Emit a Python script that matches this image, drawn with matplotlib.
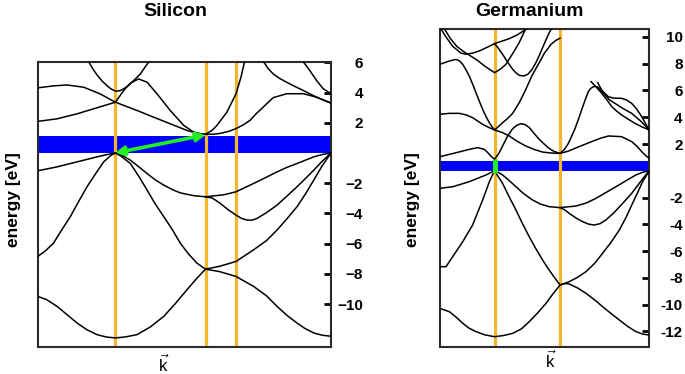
import matplotlib
matplotlib.use('Agg')
import matplotlib.pyplot as plt

plt.rcParams['font.family'] = ['Liberation Sans', 'DejaVu Sans']
plt.rcParams['mathtext.fontset'] = 'custom'
plt.rcParams['mathtext.rm'] = 'Liberation Sans'
plt.rcParams['mathtext.it'] = 'Liberation Sans:italic'

# ---------------- data ----------------
titles = ["Silicon", "Germanium"]
ylabel = "energy [eV]"

si_sym = [0.2636, 0.5727, 0.676]       # Gamma, X, K positions (fraction of path)
ge_sym = [0.262, 0.574]
si_gap = 1.1
ge_gap = 0.73

si_ticks = [6, 4, 2, -2, -4, -6, -8, -10]
si_ticklabels = ["6", "4", "2", "\u22122", "\u22124", "\u22126", "\u22128", "\u221210"]
ge_ticks = [10, 8, 6, 4, 2, -2, -4, -6, -8, -10, -12]
ge_ticklabels = ["10", "8", "6", "4", "2", "-2", "-4", "-6", "-8", "-10", "-12"]

# Silicon bands (k along path, energy eV)
si_vb1_k = [0, 0.03, 0.066, 0.10, 0.134, 0.168, 0.202, 0.234, 0.265, 0.30, 0.339, 0.385, 0.430, 0.47, 0.509, 0.54, 0.572,
            0.62, 0.676, 0.736, 0.78, 0.816, 0.85, 0.884, 0.91, 0.941, 0.97, 1.0]
si_vb1_e = [-9.49, -9.7, -10.15, -10.7, -11.25, -11.7, -12.02, -12.18, -12.24, -12.17, -12.02, -11.5, -10.81, -9.95, -9.05, -8.35, -7.69,
            -7.85, -8.17, -8.83, -9.45, -10.15, -10.75, -11.25, -11.6, -11.91, -12.06, -12.13]
si_vb2_k = [0, 0.025, 0.054, 0.08, 0.111, 0.14, 0.168, 0.20, 0.225, 0.25, 0.265, 0.285, 0.316, 0.345, 0.373, 0.40, 0.430, 0.46,
            0.486, 0.515, 0.543, 0.572, 0.62, 0.676, 0.736, 0.78, 0.816, 0.85, 0.884, 0.915, 0.941, 0.97, 1.0]
si_vb2_e = [-6.85, -6.5, -5.97, -5.15, -4.22, -3.2, -2.24, -1.3, -0.59, -0.15, 0, -0.22, -0.70, -1.55, -2.46, -3.35, -4.22, -5.1,
            -5.97, -6.7, -7.29, -7.69, -7.5, -7.18, -6.41, -5.8, -5.10, -4.35, -3.56, -2.65, -1.80, -0.85, 0]
si_vb3_k = [0, 0.066, 0.134, 0.202, 0.235, 0.265, 0.29, 0.316, 0.345, 0.373, 0.40, 0.430, 0.46, 0.486, 0.53, 0.572, 0.634,
            0.676, 0.736, 0.78, 0.816, 0.85, 0.884, 0.941, 0.97, 1.0]
si_vb3_e = [-1.18, -0.92, -0.59, -0.26, -0.11, 0, -0.18, -0.48, -0.92, -1.36, -1.77, -2.13, -2.43, -2.64, -2.82, -2.90, -2.77,
            -2.57, -2.02, -1.6, -1.25, -0.95, -0.70, -0.26, -0.1, 0]
si_vb4_k = [0.572, 0.595, 0.62, 0.651, 0.676, 0.695, 0.714, 0.73, 0.748, 0.78, 0.816, 0.85, 0.884, 0.915, 0.941, 0.97, 1.0]
si_vb4_e = [-2.90, -2.98, -3.3, -3.78, -4.11, -4.33, -4.44, -4.45, -4.33, -3.95, -3.45, -2.85, -2.24, -1.65, -1.14, -0.55, 0]
si_cb1_k = [0, 0.066, 0.134, 0.202, 0.265, 0.30, 0.339, 0.395, 0.452, 0.509, 0.545, 0.572, 0.60, 0.623, 0.65, 0.676, 0.70,
            0.724, 0.745, 0.769, 0.803, 0.849, 0.906, 0.951, 1.0]
si_cb1_e = [2.09, 2.26, 2.59, 2.99, 3.36, 3.1, 2.81, 2.37, 1.93, 1.49, 1.3, 1.23, 1.24, 1.30, 1.42, 1.61, 1.85,
            2.16, 2.6, 3.04, 3.66, 3.92, 3.92, 3.69, 3.30]
si_cb2_k = [0, 0.054, 0.100, 0.157, 0.213, 0.24, 0.265, 0.293, 0.316, 0.344, 0.373, 0.407, 0.452, 0.498, 0.532, 0.555, 0.572,
            0.595, 0.611, 0.645, 0.676, 0.693, 0.706]
si_cb2_e = [4.31, 4.44, 4.50, 4.35, 3.91, 3.62, 3.36, 4.13, 4.62, 4.90, 4.68, 3.91, 2.81, 1.82, 1.38, 1.27, 1.23,
            1.5, 1.82, 2.70, 3.91, 5.01, 6.1]
si_cb3_k = [0.172, 0.19, 0.204, 0.22, 0.236, 0.25, 0.265, 0.28, 0.293, 0.31, 0.327, 0.350, 0.381]
si_cb3_e = [6.1, 5.5, 5.12, 4.75, 4.46, 4.24, 4.09, 4.12, 4.24, 4.48, 4.79, 5.23, 6.1]
si_cb4_k = [0.768, 0.785, 0.803, 0.825, 0.849, 0.875, 0.906, 0.951, 1.0]
si_cb4_e = [6.1, 5.6, 5.23, 4.93, 4.68, 4.42, 4.13, 3.69, 3.30]
si_cb5_k = [0.903, 0.928, 0.951, 0.973, 1.0]
si_cb5_e = [6.1, 5.45, 4.79, 4.26, 3.92]

# Germanium bands
ge_vb1_k = [0, 0.046, 0.080, 0.110, 0.140, 0.173, 0.215, 0.262, 0.305, 0.348, 0.39, 0.427, 0.467, 0.507, 0.54, 0.574,
            0.595, 0.618, 0.658, 0.698, 0.74, 0.777, 0.817, 0.857, 0.897, 0.936, 0.97, 1.0]
ge_vb1_e = [-10.27, -10.52, -10.95, -11.39, -11.75, -12.01, -12.25, -12.39, -12.3, -12.14, -11.8, -11.27, -10.62, -9.90, -9.2, -8.53,
            -8.42, -8.45, -8.75, -9.15, -9.65, -10.14, -10.65, -11.14, -11.62, -12.01, -12.2, -12.26]
ge_vb2_k = [0, 0.030, 0.062, 0.110, 0.157, 0.18, 0.205, 0.222, 0.237, 0.252, 0.262, 0.280, 0.300, 0.33, 0.364, 0.395, 0.427,
            0.46, 0.491, 0.515, 0.539, 0.574, 0.618, 0.658, 0.698, 0.74, 0.777, 0.817, 0.857, 0.89, 0.920, 0.945, 0.968, 1.0]
ge_vb2_e = [-7.16, -7.16, -6.41, -5.29, -4.05, -3.15, -2.18, -1.45, -0.81, -0.3, 0, -0.45, -0.94, -1.9, -2.93, -3.95, -4.92,
            -5.85, -6.66, -7.25, -7.78, -8.53, -8.28, -7.95, -7.53, -6.9, -6.16, -5.35, -4.42, -3.45, -2.43, -1.6, -0.81, 0]
ge_vb3_k = [0, 0.062, 0.141, 0.221, 0.245, 0.262, 0.280, 0.300, 0.33, 0.364, 0.40, 0.443, 0.48, 0.523, 0.574, 0.650, 0.70,
            0.745, 0.79, 0.841, 0.89, 0.936, 0.97, 1.0]
ge_vb3_e = [-1.31, -1.19, -0.81, -0.31, -0.12, 0, -0.12, -0.31, -0.7, -1.19, -1.7, -2.18, -2.48, -2.68, -2.75, -2.63, -2.4,
            -2.06, -1.65, -1.19, -0.73, -0.31, -0.1, 0]
ge_vb4_k = [0.574, 0.595, 0.618, 0.65, 0.682, 0.71, 0.737, 0.765, 0.793, 0.83, 0.873, 0.915, 0.952, 0.978, 1.0]
ge_vb4_e = [-2.75, -2.9, -3.18, -3.52, -3.80, -3.98, -4.05, -3.95, -3.67, -3.15, -2.43, -1.7, -0.94, -0.4, 0]
ge_cb1_k = [0, 0.078, 0.141, 0.181, 0.213, 0.23, 0.244, 0.262, 0.284, 0.300, 0.324, 0.348, 0.368, 0.388, 0.408, 0.428, 0.45,
            0.475, 0.50, 0.52, 0.545, 0.574, 0.61, 0.646, 0.685, 0.725, 0.765, 0.805, 0.868, 0.916, 0.94, 0.964, 0.985, 1.0]
ge_cb1_e = [1.05, 1.35, 1.60, 1.73, 1.60, 1.35, 1.10, 0.85, 1.35, 1.85, 2.60, 3.14, 3.4, 3.52, 3.45, 3.22, 2.8,
            2.35, 1.98, 1.70, 1.45, 1.30, 1.45, 1.68, 1.93, 2.18, 2.42, 2.60, 2.55, 2.18, 1.85, 1.43, 1.1, 0.93]
ge_cb2_k = [0, 0.046, 0.094, 0.125, 0.157, 0.205, 0.237, 0.262, 0.30, 0.332, 0.37, 0.411, 0.45, 0.491, 0.53, 0.574, 0.595,
            0.614, 0.63, 0.646, 0.662, 0.677, 0.693, 0.709, 0.72, 0.733, 0.745, 0.757, 0.77, 0.789, 0.81, 0.836, 0.875, 0.916,
            0.96, 1.0]
ge_cb2_e = [4.22, 4.29, 4.29, 4.18, 3.97, 3.47, 3.22, 3.05, 2.85, 2.60, 2.20, 1.85, 1.60, 1.40, 1.33, 1.30, 1.6,
            2.05, 2.6, 3.17, 3.85, 4.54, 5.25, 5.91, 6.15, 6.28, 6.3, 6.23, 6.0, 5.66, 5.3, 5.04, 4.65, 4.29,
            3.7, 3.05]
ge_cb3_k = [0, 0.046, 0.078, 0.095, 0.110, 0.125, 0.141, 0.157, 0.173, 0.189, 0.205, 0.221, 0.237, 0.25, 0.262, 0.28, 0.30,
            0.325, 0.348, 0.38, 0.411, 0.44, 0.475, 0.50, 0.531, 0.555, 0.574]
ge_cb3_e = [7.95, 8.20, 8.32, 8.2, 7.95, 7.55, 7.08, 6.48, 5.84, 5.2, 4.59, 4.05, 3.59, 3.28, 3.05, 3.3, 3.59,
            3.92, 4.29, 5.1, 6.08, 7.1, 8.08, 8.8, 9.44, 9.75, 9.9]
ge_cb4_k = [0.722, 0.75, 0.773, 0.80, 0.821, 0.845, 0.868, 0.90, 0.932, 0.965, 1.0]
ge_cb4_e = [6.66, 6.2, 5.79, 5.25, 4.79, 4.45, 4.17, 3.85, 3.54, 3.28, 3.05]
ge_cb5_k = [0.754, 0.773, 0.79, 0.805, 0.83, 0.868, 0.89, 0.916, 0.94, 0.964, 0.985, 1.0]
ge_cb5_e = [6.58, 6.03, 5.75, 5.53, 5.43, 5.41, 5.3, 5.04, 4.6, 4.04, 3.45, 3.05]
ge_cb6_k = [0.0, 0.03, 0.062, 0.10, 0.125, 0.16, 0.189, 0.23, 0.262, 0.30, 0.332, 0.37, 0.399, 0.428]
ge_cb6_e = [10.75, 10.0, 9.3, 8.8, 8.7, 8.8, 8.95, 9.25, 9.5, 9.7, 9.87, 10.15, 10.44, 10.75]
ge_cb7_k = [0.017, 0.05, 0.081, 0.11, 0.145, 0.18, 0.208, 0.24, 0.262, 0.29, 0.316, 0.336, 0.356, 0.38, 0.404, 0.415]
ge_cb7_e = [10.75, 9.9, 9.3, 8.95, 8.6, 8.25, 7.9, 7.55, 7.33, 7.6, 7.95, 8.45, 8.95, 9.6, 10.4, 10.75]
ge_cb8_k = [0.262, 0.28, 0.30, 0.325, 0.348, 0.365, 0.38, 0.40, 0.42, 0.44, 0.459, 0.475, 0.491, 0.507, 0.523, 0.538]
ge_cb8_e = [9.5, 9.15, 8.7, 8.1, 7.58, 7.3, 7.13, 7.08, 7.2, 7.55, 8.08, 8.6, 9.2, 9.78, 10.32, 10.75]

si_bands = [(si_vb1_k, si_vb1_e), (si_vb2_k, si_vb2_e), (si_vb3_k, si_vb3_e), (si_vb4_k, si_vb4_e),
            (si_cb1_k, si_cb1_e), (si_cb2_k, si_cb2_e), (si_cb3_k, si_cb3_e), (si_cb4_k, si_cb4_e),
            (si_cb5_k, si_cb5_e)]
ge_bands = [(ge_vb1_k, ge_vb1_e), (ge_vb2_k, ge_vb2_e), (ge_vb3_k, ge_vb3_e), (ge_vb4_k, ge_vb4_e),
            (ge_cb1_k, ge_cb1_e), (ge_cb2_k, ge_cb2_e), (ge_cb3_k, ge_cb3_e), (ge_cb4_k, ge_cb4_e),
            (ge_cb5_k, ge_cb5_e), (ge_cb6_k, ge_cb6_e), (ge_cb7_k, ge_cb7_e), (ge_cb8_k, ge_cb8_e)]

# Si indirect transition (Gamma VBM -> X CBM), Ge direct transition at Gamma
si_arrow_k = [0.2636, 0.5727]
si_arrow_e = [0.0, 1.2]
ge_bar_k = [0.262, 0.262]
ge_bar_e = [-0.15, 0.9]

# ---------------- styling ----------------
W, H = 685, 374
ORANGE = '#f2b62a'
BLUE = '#0000ff'
GREEN = '#22ee22'
SPINE = '#2a2a2a'

fig = plt.figure(figsize=(W / 100, H / 100), dpi=100)


def add_axes(l, r, t, b):
    return fig.add_axes([l / W, 1 - b / H, (r - l) / W, (b - t) / H])


def panel(ax, bands, sym, gap, ylim, ticks, labels, pad):
    ax.axhspan(0, gap, color=BLUE, lw=0, zorder=1)
    for x in sym:
        ax.axvline(x, color=ORANGE, lw=2.3, zorder=2)
    for k, e in bands:
        ax.plot(k, e, color='black', lw=1.1, zorder=3, solid_joinstyle='round')
    ax.set_xlim(0, 1)
    ax.set_ylim(*ylim)
    ax.set_xticks([])
    ax.yaxis.tick_right()
    ax.set_yticks(ticks)
    ax.set_yticklabels(labels)
    ax.tick_params(axis='y', direction='in', length=5, width=2, pad=pad,
                   labelsize=11, color='black')
    for lab in ax.get_yticklabels():
        lab.set_ha('right')
        lab.set_fontweight('bold')
    for s in ax.spines.values():
        s.set_linewidth(1.5)
        s.set_color(SPINE)


ax1 = add_axes(37.7, 331, 62.3, 347.3)
panel(ax1, si_bands, si_sym, si_gap, (-12.86, 6.0), si_ticks, si_ticklabels, 23)
ax1.annotate('', xy=(si_arrow_k[1], si_arrow_e[1]), xytext=(si_arrow_k[0], si_arrow_e[0]),
             arrowprops=dict(arrowstyle='<|-|>', color=GREEN, lw=2.6, mutation_scale=13,
                             shrinkA=0, shrinkB=0), zorder=5)

ax2 = add_axes(439.7, 649.3, 29, 347.3)
panel(ax2, ge_bands, ge_sym, ge_gap, (-13.18, 10.59), ge_ticks, ge_ticklabels, 24)
ax2.plot(ge_bar_k, ge_bar_e, color=GREEN, lw=3.6, solid_capstyle='butt', zorder=5)

# texts
fig.text(175 / W, 1 - 11 / H, titles[0], ha='center', va='center', fontsize=14, fontweight='bold')
fig.text(530 / W, 1 - 11 / H, titles[1], ha='center', va='center', fontsize=14, fontweight='bold')
fig.text(13.5 / W, 1 - 200 / H, ylabel, ha='center', va='center', rotation=90, fontsize=12.5, fontweight='bold')
fig.text(412.5 / W, 1 - 200 / H, ylabel, ha='center', va='center', rotation=90, fontsize=12.5, fontweight='bold')
fig.text(163 / W, 1 - 364 / H, r'$\vec{\mathrm{k}}$', ha='center', va='center', fontsize=12)
fig.text(550 / W, 1 - 360 / H, r'$\vec{\mathrm{k}}$', ha='center', va='center', fontsize=12)

fig.savefig('out.png', dpi=100)
